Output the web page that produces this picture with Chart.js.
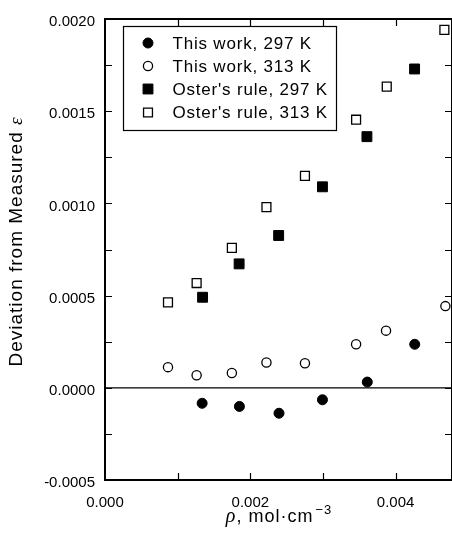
<!DOCTYPE html>
<html>
<head>
<meta charset="utf-8">
<script src="https://cdn.jsdelivr.net/npm/chart.js@4"></script>
<style>
html,body{margin:0;padding:0;background:#fff;overflow:hidden;}
canvas{display:block;}
</style>
</head>
<body>
<canvas id="c" width="460" height="541"></canvas>
<script>
// ---- data ----
const seriesLabels = ["This work, 297 K", "This work, 313 K", "Oster's rule, 297 K", "Oster's rule, 313 K"];

const work297X = [0.001337, 0.001850, 0.002395, 0.002993, 0.003610, 0.004263];
const work297Y = [-0.000084, -0.000101, -0.000138, -0.000065, 0.000031, 0.000236];

const work313X = [0.000867, 0.001261, 0.001746, 0.002222, 0.002752, 0.003456, 0.003868, 0.004685];
const work313Y = [0.000112, 0.000068, 0.000080, 0.000137, 0.000133, 0.000236, 0.000310, 0.000443];

const oster297X = [0.001343, 0.001846, 0.002390, 0.002993, 0.003605, 0.004261];
const oster297Y = [0.000491, 0.000672, 0.000826, 0.001090, 0.001362, 0.001729];

const oster313X = [0.000867, 0.001261, 0.001746, 0.002222, 0.002752, 0.003456, 0.003878, 0.004671];
const oster313Y = [0.000463, 0.000568, 0.000759, 0.000980, 0.001149, 0.001454, 0.001633, 0.001941];

const xMin = 0, xMax = 0.004776, xStep = 0.001, xLabelStep = 0.002;
const yMin = -0.0005, yMax = 0.0020, yStep = 0.00025, yLabelStep = 0.0005;

const yTitle = "Deviation from Measured ";
const yTitleSym = "ε";
const xTitleSym = "ρ";
const xTitle = ", mol·cm";
const xTitleSup = "−3";

// ---- build ----
const pts = (xs, ys) => xs.map((x, i) => ({x: x, y: ys[i]}));
const SANS = '"Liberation Sans", Arial, Helvetica, sans-serif';
const SERIF_I = 'italic 20px "Liberation Serif", "Times New Roman", serif';

function isMult(v, step) {
  const r = v / step;
  return Math.abs(r - Math.round(r)) < 1e-6;
}

const framePlugin = {
  id: 'frame',
  beforeDatasetsDraw(chart) {
    const ctx = chart.ctx, a = chart.chartArea;
    const xs = chart.scales.x, ys = chart.scales.y;
    ctx.save();
    // zero line
    const y0 = ys.getPixelForValue(0);
    ctx.strokeStyle = '#000';
    ctx.lineWidth = 1.3;
    ctx.beginPath();
    ctx.moveTo(a.left, y0); ctx.lineTo(a.right, y0);
    ctx.stroke();
    // ticks (inward)
    ctx.lineWidth = 1.2;
    const tl = 7;
    ctx.beginPath();
    ys.ticks.forEach(t => {
      const p = Math.round(ys.getPixelForValue(t.value)) + 0.5;
      if (p <= a.top + 1 || p >= a.bottom - 1) return;
      ctx.moveTo(a.left, p); ctx.lineTo(a.left + tl, p);
      ctx.moveTo(a.right, p); ctx.lineTo(a.right - tl, p);
    });
    xs.ticks.forEach(t => {
      const p = Math.round(xs.getPixelForValue(t.value)) + 0.5;
      if (p <= a.left + 1 || p >= a.right - 1) return;
      ctx.moveTo(p, a.bottom); ctx.lineTo(p, a.bottom - tl);
      ctx.moveTo(p, a.top); ctx.lineTo(p, a.top + tl);
    });
    ctx.stroke();
    // frame
    ctx.lineWidth = 2;
    ctx.strokeRect(a.left, a.top, a.right - a.left, a.bottom - a.top);
    ctx.restore();
  },
  afterDraw(chart) {
    const ctx = chart.ctx, a = chart.chartArea;
    ctx.save();
    ctx.fillStyle = '#000';
    // y title
    ctx.save();
    ctx.translate(17, 241.5);
    ctx.rotate(-Math.PI / 2);
    ctx.textBaseline = 'middle';
    ctx.letterSpacing = '1px';
    ctx.font = '19px ' + SANS;
    const w1 = ctx.measureText(yTitle).width;
    ctx.font = 'italic 19px "Liberation Serif", "Times New Roman", serif';
    const w2 = ctx.measureText(yTitleSym).width;
    let x = -(w1 + w2) / 2;
    ctx.font = '19px ' + SANS;
    ctx.textAlign = 'left';
    ctx.fillText(yTitle, x, 0);
    ctx.font = 'italic 19px "Liberation Serif", "Times New Roman", serif';
    ctx.fillText(yTitleSym, x + w1, 0);
    ctx.restore();

    // x title
    ctx.save();
    ctx.textBaseline = 'alphabetic';
    ctx.textAlign = 'left';
    ctx.letterSpacing = '1px';
    ctx.font = SERIF_I;
    const r1 = ctx.measureText(xTitleSym).width;
    ctx.font = '18px ' + SANS;
    const r2 = ctx.measureText(xTitle).width;
    ctx.font = '13px ' + SANS;
    const r3 = ctx.measureText(xTitleSup).width;
    const cx = 279;
    let xx = cx - (r1 + r2 + r3 + 2) / 2;
    const base = 522;
    ctx.font = SERIF_I;
    ctx.fillText(xTitleSym, xx, base); xx += r1;
    ctx.font = '18px ' + SANS;
    ctx.fillText(xTitle, xx, base); xx += r2 + 2;
    ctx.font = '13px ' + SANS;
    ctx.fillText(xTitleSup, xx, base - 8);
    ctx.restore();

    // legend
    const L = {left: 123, top: 26, right: 336, bottom: 130};
    ctx.lineWidth = 1.2;
    ctx.strokeStyle = '#000';
    ctx.strokeRect(L.left + 0.5, L.top + 0.5, L.right - L.left, L.bottom - L.top);
    const rows = [43, 66, 89, 112.5];
    chart.data.datasets.forEach((ds, i) => {
      const y = rows[i];
      ctx.save();
      ctx.fillStyle = ds.backgroundColor;
      ctx.strokeStyle = ds.borderColor;
      ctx.lineWidth = ds.borderWidth;
      Chart.helpers.drawPoint(ctx, {pointStyle: ds.pointStyle, radius: ds.pointRadius, borderWidth: ds.borderWidth, rotation: 0}, 148, y);
      ctx.restore();
      ctx.fillStyle = '#000';
      ctx.font = '17px ' + SANS;
      ctx.letterSpacing = '0.8px';
      ctx.textBaseline = 'middle';
      ctx.textAlign = 'left';
      ctx.fillText(ds.label, 172.5, y + 1);
    });
    ctx.restore();
  }
};

const chart = new Chart(document.getElementById('c'), {
  type: 'scatter',
  data: {
    datasets: [
      {label: seriesLabels[0], data: pts(work297X, work297Y), pointStyle: 'circle', pointRadius: 5, backgroundColor: '#000', borderColor: '#000', borderWidth: 1},
      {label: seriesLabels[1], data: pts(work313X, work313Y), pointStyle: 'circle', pointRadius: 4.6, backgroundColor: '#fff', borderColor: '#000', borderWidth: 1.3},
      {label: seriesLabels[2], data: pts(oster297X, oster297Y), pointStyle: 'rect', pointRadius: 7, backgroundColor: '#000', borderColor: '#000', borderWidth: 1},
      {label: seriesLabels[3], data: pts(oster313X, oster313Y), pointStyle: 'rect', pointRadius: 6.3, backgroundColor: '#fff', borderColor: '#000', borderWidth: 1.3}
    ]
  },
  options: {
    responsive: false,
    animation: false,
    devicePixelRatio: 1,
    events: [],
    layout: {padding: {top: 10, right: 4, left: 0, bottom: 0}},
    plugins: {legend: {display: false}, tooltip: {enabled: false}},
    scales: {
      x: {
        type: 'linear', min: xMin, max: xMax,
        grid: {display: false, drawTicks: false},
        border: {display: false},
        ticks: {
          stepSize: xStep, includeBounds: false, padding: 14, color: '#000',
          font: {family: SANS, size: 15}, maxRotation: 0, autoSkip: false,
          callback: v => isMult(v, xLabelStep) ? v.toFixed(3) : ''
        },
        afterFit: s => { s.height = 61; }
      },
      y: {
        type: 'linear', min: yMin, max: yMax,
        grid: {display: false, drawTicks: false},
        border: {display: false},
        ticks: {
          stepSize: yStep, padding: 10, color: '#000', autoSkip: false, labelOffset: 3,
          font: {family: SANS, size: 15},
          callback: v => isMult(v, yLabelStep) ? v.toFixed(4) : ''
        },
        afterFit: s => { s.width = 105; }
      }
    }
  },
  plugins: [framePlugin]
});
</script>
</body>
</html>
